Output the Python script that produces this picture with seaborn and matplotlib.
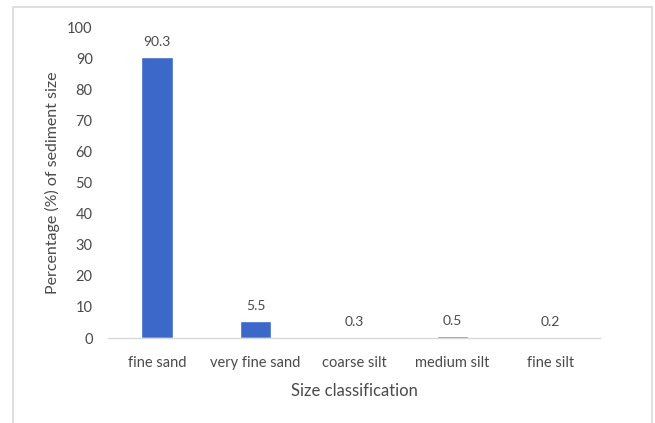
import matplotlib
matplotlib.use("Agg")
import matplotlib.pyplot as plt
import seaborn as sns
import pandas as pd
from matplotlib.patches import Rectangle

# Sediment grain-size composition
categories = ["fine sand", "very fine sand", "coarse silt", "medium silt", "fine silt"]
percentages = [90.3, 5.5, 0.3, 0.5, 0.2]
y_ticks = [0, 10, 20, 30, 40, 50, 60, 70, 80, 90, 100]

sns.set_theme(style="white")
plt.rcParams["font.family"] = ["Lato", "DejaVu Sans"]

text_grey = "#4A4A4A"
bar_blue = "#3B68C9"

df = pd.DataFrame({"size": categories, "pct": percentages})

fig = plt.figure(figsize=(6.55, 4.23), dpi=100)
ax = fig.add_axes([108 / 655, 1 - 338 / 423, 492 / 655, 311 / 423])

sns.barplot(data=df, x="size", y="pct", color=bar_blue, width=0.32,
            saturation=1, ax=ax)

ax.set_ylim(0, 100)
ax.set_yticks(y_ticks)
ax.set_yticklabels([str(t) for t in y_ticks])
ax.set_xlim(-0.5, len(categories) - 0.5)

for i, v in enumerate(percentages):
    ax.text(i, v + 3, f"{v:.1f}", ha="center", va="bottom",
            fontsize=10, color=text_grey)

for side in ["top", "right", "left"]:
    ax.spines[side].set_visible(False)
ax.spines["bottom"].set_color("#D9D9D9")
ax.spines["bottom"].set_linewidth(1.0)

ax.tick_params(axis="both", length=0, colors=text_grey, labelsize=10.5)
ax.tick_params(axis="x", pad=13)
ax.tick_params(axis="y", pad=11)

ax.set_xlabel("Size classification", fontsize=12, color=text_grey, labelpad=9)
ax.set_ylabel("Percentage (%) of sediment size", fontsize=11.5, color=text_grey,
              labelpad=5)

# Chart-area border
fig.patches.append(Rectangle((12.5 / 655, -0.05), 639.5 / 655, 1.05 - 7 / 423,
                             transform=fig.transFigure, fill=False,
                             edgecolor="#D9D9D9", linewidth=1.2))

fig.savefig("out.png", dpi=100)
